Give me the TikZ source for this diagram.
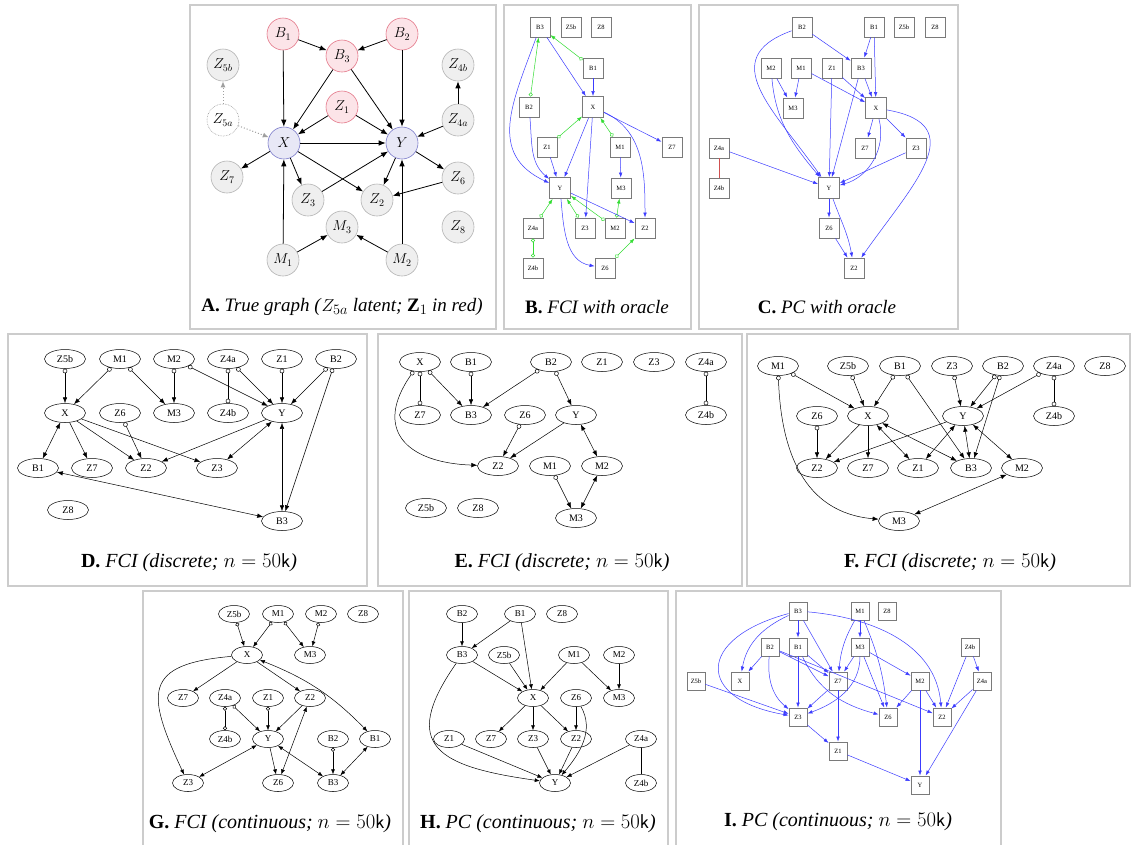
\documentclass[tikz,border=0pt]{standalone}
\usepackage{fontspec}
\setmainfont{Liberation Serif}
\usepackage{amsmath}
\usetikzlibrary{arrows.meta,shapes.geometric}
\definecolor{framegray}{HTML}{CCCCCC}
\definecolor{nodegray}{HTML}{B4B4B4}
\definecolor{fillgray}{HTML}{EFEFEF}
\definecolor{nodered}{HTML}{E4798A}
\definecolor{fillred}{HTML}{FCE4E8}
\definecolor{nodeblue}{HTML}{7D7DCB}
\definecolor{fillblue}{HTML}{E8E8F6}
\definecolor{boxgray}{HTML}{7A7A7A}
\definecolor{orblue}{HTML}{3C3CFF}
\definecolor{orgreen}{HTML}{33DD33}
\definecolor{orred}{HTML}{D05050}
\tikzset{
  gnode/.style   = {circle, minimum size=32pt, inner sep=0pt, line width=0.6pt, draw=nodegray, fill=fillgray,
                    font=\fontsize{14}{16}\selectfont},
  rnode/.style   = {gnode, draw=nodered, fill=fillred},
  bnode/.style   = {gnode, draw=nodeblue, fill=fillblue},
  hnode/.style   = {gnode, draw=gray!80, fill=white, densely dotted},
  tarr/.style    = {-{Latex[length=7pt,width=5.5pt]}, line width=0.8pt},
  harr/.style    = {-{Latex[length=6pt,width=5pt]}, line width=1pt, draw=gray!75, dotted},
  ovl/.style     = {ellipse, draw, fill=white, line width=0.5pt, minimum width=41pt, minimum height=19pt,
                    inner sep=0pt, font=\fontsize{10}{11}\selectfont},
  sovl/.style    = {ovl, minimum width=31pt, minimum height=17pt, font=\fontsize{9}{10}\selectfont},
  sq/.style      = {rectangle, draw=boxgray, fill=white, line width=0.9pt, minimum size=20pt, inner sep=0pt,
                    font=\fontsize{6.5}{7}\selectfont},
  ssq/.style     = {sq, minimum size=18pt},
  fwd/.style     = {-{Latex[length=6pt,width=4.5pt]}, line width=0.5pt},
  bidir/.style   = {{Latex[length=6pt,width=4.5pt]}-{Latex[length=6pt,width=4.5pt]}, line width=0.5pt},
  ofwd/.style    = {{Circle[open,length=4.5pt]}-{Latex[length=6pt,width=4.5pt]}, line width=0.5pt},
  oo/.style      = {{Circle[open,length=4.5pt]}-{Circle[open,length=4.5pt]}, line width=0.5pt},
  bfwd/.style    = {-{Latex[length=5pt,width=3.6pt]}, line width=0.5pt, draw=orblue},
  gfwd/.style    = {{Circle[open,length=4pt]}-{Latex[length=5pt,width=3.6pt]}, line width=0.5pt, draw=orgreen},
  goo/.style     = {{Circle[open,length=4pt]}-{Circle[open,length=4pt]}, line width=0.5pt, draw=orgreen},
  panelbox/.style = {draw=framegray, line width=1.2pt},
  captext/.style = {font=\fontsize{19}{22}\selectfont},
  runtext/.style = {font=\fontsize{20}{23}\selectfont},
}

\begin{document}
\begin{tikzpicture}[x=1pt, y=1pt]
  \fill[white] (0,0) rectangle (1132,-844);
  \useasboundingbox (0,0) rectangle (1132,-844);

  \draw[panelbox] (190,-5) rectangle (496,-329);
  \draw[panelbox] (504,-5) rectangle (691,-329);
  \draw[panelbox] (699,-5) rectangle (958,-329);
  \draw[panelbox] (8,-334) rectangle (367,-586);
  \draw[panelbox] (378,-334) rectangle (742,-586);
  \draw[panelbox] (747,-334) rectangle (1130,-586);
  \draw[panelbox] (143,-591) rectangle (403,-850);
  \draw[panelbox] (409,-591) rectangle (668,-850);
  \draw[panelbox] (676,-591) rectangle (1001,-850);

  \node[rnode] (aB1) at (283,-34) {$B_1$};
  \node[rnode] (aB3) at (342,-56) {$B_3$};
  \node[rnode] (aB2) at (402,-34) {$B_2$};
  \node[gnode] (aZ5b) at (223,-65) {$Z_{5b}$};
  \node[gnode] (aZ4b) at (458,-65) {$Z_{4b}$};
  \node[rnode] (aZ1) at (342,-107) {$Z_1$};
  \node[hnode] (aZ5a) at (223,-120) {$Z_{5a}$};
  \node[gnode] (aZ4a) at (458,-120) {$Z_{4a}$};
  \node[bnode] (aX) at (284,-143) {$X$};
  \node[bnode] (aY) at (402,-143) {$Y$};
  \node[gnode] (aZ7) at (227,-177) {$Z_7$};
  \node[gnode] (aZ6) at (458,-178) {$Z_6$};
  \node[gnode] (aZ3) at (308,-200) {$Z_3$};
  \node[gnode] (aZ2) at (377,-200) {$Z_2$};
  \node[gnode] (aM3) at (342,-227) {$M_3$};
  \node[gnode] (aZ8) at (458,-227) {$Z_8$};
  \node[gnode] (aM1) at (283,-260) {$M_1$};
  \node[gnode] (aM2) at (402,-260) {$M_2$};
  \draw[tarr] (aB1) -- (aB3); \draw[tarr] (aB2) -- (aB3);
  \draw[tarr] (aB1) -- (aX); \draw[tarr] (aB3) -- (aX); \draw[tarr] (aB3) -- (aY); \draw[tarr] (aB2) -- (aY);
  \draw[tarr] (aZ1) -- (aX); \draw[tarr] (aZ1) -- (aY);
  \draw[tarr] (aZ4a) -- (aZ4b); \draw[tarr] (aZ4a) -- (aY);
  \draw[tarr] (aX) -- (aY); \draw[tarr] (aX) -- (aZ7); \draw[tarr] (aX) -- (aZ3); \draw[tarr] (aX) -- (aZ2);
  \draw[tarr] (aY) -- (aZ2); \draw[tarr] (aY) -- (aZ6); \draw[tarr] (aZ6) -- (aZ2); \draw[tarr] (aZ3) -- (aY);
  \draw[tarr] (aM1) -- (aX); \draw[tarr] (aM2) -- (aY); \draw[tarr] (aM1) -- (aM3); \draw[tarr] (aM2) -- (aM3);
  \draw[harr] (aZ5a) -- (aZ5b); \draw[harr] (aZ5a) -- (aX);
  \node[captext] (capA) at (342,-307)
    {\textbf{A.} \textit{True graph (}$Z_{5a}$\textit{ latent; }$\mathbf{Z}_1$\textit{ in red)}};

  \node[sq] (bB3) at (540,-27) {B3};
  \node[sq] (bZ5b) at (571,-27) {Z5b};
  \node[sq] (bZ8) at (601,-27) {Z8};
  \node[sq] (bB1) at (593,-68) {B1};
  \node[sq] (bB2) at (529,-107) {B2};
  \node[sq, minimum size=21pt] (bX) at (593,-107) {X};
  \node[sq] (bZ1) at (547,-147) {Z1};
  \node[sq] (bM1) at (620,-147) {M1};
  \node[sq] (bZ7) at (672,-147) {Z7};
  \node[sq, minimum size=21pt] (bY) at (560,-188) {Y};
  \node[sq] (bM3) at (621,-188) {M3};
  \node[sq] (bZ4a) at (533,-228) {Z4a};
  \node[sq] (bZ3) at (585,-228) {Z3};
  \node[sq] (bM2) at (615,-228) {M2};
  \node[sq] (bZ2) at (645,-228) {Z2};
  \node[sq] (bZ4b) at (533,-268) {Z4b};
  \node[sq] (bZ6) at (605,-268) {Z6};
  \draw[gfwd] (bB1) -- (bB3); \draw[gfwd] (bB2) -- (bB3);
  \draw[gfwd] (bZ1) -- (bX); \draw[gfwd] (bM1) -- (bX);
  \draw[gfwd] (bZ4a) -- (bY); \draw[gfwd] (bZ3) -- (bY); \draw[gfwd] (bM2) -- (bY);
  \draw[gfwd] (bM2) -- (bM3); \draw[gfwd] (bZ6) -- (bZ2); \draw[goo] (bZ4a) -- (bZ4b);
  \draw[bfwd] (bB3) -- (bX); \draw[bfwd] (bB1) -- (bX);
  \draw[bfwd] (bB3) to[out=250, in=155, looseness=1.2] (bY);
  \draw[bfwd] (bB2) to[out=-85, in=140] (bY);
  \draw[bfwd] (bX) -- (bY); \draw[bfwd] (bX) -- (bZ3); \draw[bfwd] (bX) -- (bZ7);
  \draw[bfwd] (bX) to[out=-25, in=90] (bZ2);
  \draw[bfwd] (bZ1) -- (bY); \draw[bfwd] (bM1) -- (bM3); \draw[bfwd] (bY) -- (bZ2);
  \draw[bfwd] (bY) to[out=-85, in=170] (bZ6);
  \node[captext] (capB) at (597,-307) {\textbf{B.} \textit{FCI with oracle}};

  \node[sq] (cB2) at (802,-27) {B2};
  \node[sq] (cB1) at (874,-27) {B1};
  \node[sq] (cZ5b) at (904,-27) {Z5b};
  \node[sq] (cZ8) at (935,-27) {Z8};
  \node[sq] (cM2) at (771,-68) {M2};
  \node[sq] (cM1) at (801,-68) {M1};
  \node[sq] (cZ1) at (832,-68) {Z1};
  \node[sq] (cB3) at (861,-68) {B3};
  \node[sq] (cM3) at (793,-108) {M3};
  \node[sq, minimum size=21pt] (cX) at (876,-108) {X};
  \node[sq] (cZ4a) at (719,-148) {Z4a};
  \node[sq] (cZ7) at (865,-148) {Z7};
  \node[sq] (cZ3) at (916,-148) {Z3};
  \node[sq, minimum size=21pt] (cY) at (829,-188) {Y};
  \node[sq] (cZ4b) at (719,-188) {Z4b};
  \node[sq] (cZ6) at (829,-228) {Z6};
  \node[sq] (cZ2) at (854,-268) {Z2};
  \draw[bfwd] (cB2) -- (cB3); \draw[bfwd] (cB2) to[out=200, in=125, looseness=1.4] (cY);
  \draw[bfwd] (cB1) -- (cB3); \draw[bfwd] (cB1) -- (cX);
  \draw[bfwd] (cM2) -- (cM3); \draw[bfwd] (cM2) to[out=-85, in=130] (cY);
  \draw[bfwd] (cM1) -- (cM3); \draw[bfwd] (cM1) -- (cX);
  \draw[bfwd] (cZ1) -- (cX); \draw[bfwd] (cZ1) -- (cY);
  \draw[bfwd] (cB3) -- (cX); \draw[bfwd] (cB3) -- (cY);
  \draw[bfwd] (cX) -- (cZ7); \draw[bfwd] (cX) -- (cZ3);
  \draw[bfwd] (cX) to[out=-75, in=15] (cY); \draw[bfwd] (cZ3) -- (cY);
  \draw[bfwd] (cX) to[out=-10, in=55, looseness=1.5] (cZ2);
  \draw[bfwd] (cZ4a) -- (cY); \draw[bfwd] (cY) -- (cZ6);
  \draw[bfwd] (cY) to[out=-70, in=100] (cZ2); \draw[bfwd] (cZ6) -- (cZ2);
  \draw[line width=0.5pt, draw=orred] (cZ4a) -- (cZ4b);
  \node[captext] (capC) at (827,-307) {\textbf{C.} \textit{PC with oracle}};

  \node[ovl] (dZ5b) at (65,-359) {Z5b};
  \node[ovl] (dM1) at (120,-359) {M1};
  \node[ovl] (dM2) at (174,-359) {M2};
  \node[ovl] (dZ4a) at (228,-359) {Z4a};
  \node[ovl] (dZ1) at (282,-359) {Z1};
  \node[ovl] (dB2) at (336,-359) {B2};
  \node[ovl] (dX) at (65,-413) {X};
  \node[ovl] (dZ6) at (120,-413) {Z6};
  \node[ovl] (dM3) at (174,-413) {M3};
  \node[ovl] (dZ4b) at (228,-413) {Z4b};
  \node[ovl] (dY) at (282,-413) {Y};
  \node[ovl] (dB1) at (38,-468) {B1};
  \node[ovl] (dZ7) at (92,-468) {Z7};
  \node[ovl] (dZ2) at (146,-468) {Z2};
  \node[ovl] (dZ3) at (217,-468) {Z3};
  \node[ovl] (dZ8) at (68,-510) {Z8};
  \node[ovl] (dB3) at (282,-521) {B3};
  \draw[ofwd] (dZ5b) -- (dX); \draw[ofwd] (dM1) -- (dX); \draw[ofwd] (dM1) -- (dM3);
  \draw[ofwd] (dM2) -- (dM3); \draw[ofwd] (dM2) -- (dY); \draw[ofwd] (dZ4a) -- (dY);
  \draw[ofwd] (dZ1) -- (dY); \draw[ofwd] (dB2) -- (dY); \draw[ofwd] (dB2) -- (dB3);
  \draw[ofwd] (dZ6) -- (dZ2); \draw[oo] (dZ4a) -- (dZ4b);
  \draw[bidir] (dX) -- (dB1); \draw[bidir] (dY) -- (dZ3); \draw[bidir] (dY) -- (dB3);
  \draw[bidir] (dB1) -- (dB3);
  \draw[fwd] (dX) -- (dZ7); \draw[fwd] (dX) -- (dZ2); \draw[fwd] (dX) -- (dZ3); \draw[fwd] (dY) -- (dZ2);
  \node[runtext] (capD) at (189,-563) {\textbf{D.} \textit{FCI (discrete; }$n = 50\mathsf{k}$\textit{)}};

  \node[ovl] (eX) at (420,-362) {X};
  \node[ovl] (eB1) at (471,-362) {B1};
  \node[ovl] (eB2) at (551,-362) {B2};
  \node[ovl] (eZ1) at (602,-362) {Z1};
  \node[ovl] (eZ3) at (654,-362) {Z3};
  \node[ovl] (eZ4a) at (706,-362) {Z4a};
  \node[ovl] (eZ7) at (420,-415) {Z7};
  \node[ovl] (eB3) at (471,-415) {B3};
  \node[ovl] (eZ6) at (525,-415) {Z6};
  \node[ovl] (eY) at (576,-415) {Y};
  \node[ovl] (eZ4b) at (706,-415) {Z4b};
  \node[ovl] (eZ2) at (498,-466) {Z2};
  \node[ovl] (eM1) at (550,-466) {M1};
  \node[ovl] (eM2) at (602,-466) {M2};
  \node[ovl] (eZ5b) at (426,-508) {Z5b};
  \node[ovl] (eZ8) at (478,-508) {Z8};
  \node[ovl] (eM3) at (576,-518) {M3};
  \draw[oo] (eX) -- (eZ7); \draw[oo] (eZ4a) -- (eZ4b);
  \draw[ofwd] (eX) -- (eB3); \draw[ofwd] (eX) to[out=235, in=178, looseness=1.6] (eZ2);
  \draw[ofwd] (eB1) -- (eB3); \draw[ofwd] (eB2) -- (eB3); \draw[ofwd] (eB2) -- (eY);
  \draw[ofwd] (eZ6) -- (eZ2); \draw[ofwd] (eM1) -- (eM3);
  \draw[fwd] (eY) -- (eZ2);
  \draw[bidir] (eY) -- (eM2); \draw[bidir] (eM2) -- (eM3);
  \node[runtext] (capE) at (562,-563) {\textbf{E.} \textit{FCI (discrete; }$n = 50\mathsf{k}$\textit{)}};

  \node[ovl] (fM1) at (778,-366) {M1};
  \node[ovl] (fZ5b) at (848,-366) {Z5b};
  \node[ovl] (fB1) at (900,-366) {B1};
  \node[ovl] (fZ3) at (952,-366) {Z3};
  \node[ovl] (fB2) at (1003,-366) {B2};
  \node[ovl] (fZ4a) at (1054,-366) {Z4a};
  \node[ovl] (fZ8) at (1105,-366) {Z8};
  \node[ovl] (fZ6) at (817,-416) {Z6};
  \node[ovl] (fX) at (868,-416) {X};
  \node[ovl] (fY) at (963,-416) {Y};
  \node[ovl] (fZ4b) at (1054,-416) {Z4b};
  \node[ovl] (fZ2) at (817,-468) {Z2};
  \node[ovl] (fZ7) at (868,-468) {Z7};
  \node[ovl] (fZ1) at (918,-468) {Z1};
  \node[ovl] (fB3) at (971,-468) {B3};
  \node[ovl] (fM2) at (1022,-468) {M2};
  \node[ovl] (fM3) at (899,-521) {M3};
  \draw[ofwd] (fM1) -- (fX); \draw[ofwd] (fM1) to[out=-88, in=175, looseness=1.1] (fM3);
  \draw[ofwd] (fZ5b) -- (fX); \draw[ofwd] (fB1) -- (fX); \draw[ofwd] (fB1) -- (fB3);
  \draw[ofwd] (fZ3) -- (fY); \draw[ofwd] (fB2) -- (fY); \draw[ofwd] (fB2) -- (fB3);
  \draw[ofwd] (fZ4a) -- (fY); \draw[ofwd] (fZ6) -- (fZ2); \draw[oo] (fZ4a) -- (fZ4b);
  \draw[fwd] (fX) -- (fZ2); \draw[fwd] (fX) -- (fZ7); \draw[fwd] (fY) -- (fZ2);
  \draw[bidir] (fX) -- (fZ1); \draw[bidir] (fX) -- (fB3); \draw[bidir] (fY) -- (fZ1);
  \draw[bidir] (fY) -- (fB3); \draw[bidir] (fY) -- (fM2); \draw[bidir] (fM2) -- (fM3);
  \node[runtext] (capF) at (950,-563) {\textbf{F.} \textit{FCI (discrete; }$n = 50\mathsf{k}$\textit{)}};

  \begin{scope}[fwd/.style={-{Latex[length=5pt,width=4pt]}, line width=0.5pt},
                bidir/.style={{Latex[length=5pt,width=4pt]}-{Latex[length=5pt,width=4pt]}, line width=0.5pt},
                ofwd/.style={{Circle[open,length=4pt]}-{Latex[length=5pt,width=4pt]}, line width=0.5pt},
                oo/.style={{Circle[open,length=4pt]}-{Circle[open,length=4pt]}, line width=0.5pt}]
  \node[sovl] (gZ5b) at (234,-614) {Z5b};
  \node[sovl] (gM1) at (278,-614) {M1};
  \node[sovl] (gM2) at (321,-614) {M2};
  \node[sovl] (gZ8) at (363,-614) {Z8};
  \node[sovl] (gX) at (247,-655) {X};
  \node[sovl] (gM3) at (310,-655) {M3};
  \node[sovl] (gZ7) at (183,-698) {Z7};
  \node[sovl] (gZ4a) at (225,-698) {Z4a};
  \node[sovl] (gZ1) at (268,-698) {Z1};
  \node[sovl] (gZ2) at (310,-698) {Z2};
  \node[sovl] (gZ4b) at (225,-739) {Z4b};
  \node[sovl] (gY) at (268,-739) {Y};
  \node[sovl] (gB2) at (333,-739) {B2};
  \node[sovl] (gB1) at (375,-739) {B1};
  \node[sovl] (gZ3) at (188,-783) {Z3};
  \node[sovl] (gZ6) at (278,-783) {Z6};
  \node[sovl] (gB3) at (333,-783) {B3};
  \draw[ofwd] (gZ5b) -- (gX); \draw[ofwd] (gM1) -- (gX); \draw[ofwd] (gM1) -- (gM3);
  \draw[ofwd] (gM2) -- (gM3); \draw[ofwd] (gZ4a) -- (gY); \draw[ofwd] (gZ1) -- (gY);
  \draw[ofwd] (gB2) -- (gB3); \draw[oo] (gZ4a) -- (gZ4b);
  \draw[fwd] (gX) -- (gZ7); \draw[fwd] (gX) -- (gZ2);
  \draw[fwd] (gX) to[out=185, in=115, looseness=1.8] (gZ3);
  \draw[fwd] (gZ2) -- (gY); \draw[fwd] (gY) -- (gZ6);
  \draw[bidir] (gX) to[bend left=12] (gB1); \draw[bidir] (gY) -- (gZ3); \draw[bidir] (gZ2) -- (gZ6);
  \draw[bidir] (gY) -- (gB3); \draw[bidir] (gB1) -- (gB3);
  \node[runtext] (capG) at (270,-824) {\textbf{G.} \textit{FCI (continuous; }$n = 50\mathsf{k}$\textit{)}};

  \node[sovl] (hB2) at (462,-614) {B2};
  \node[sovl] (hB1) at (520,-614) {B1};
  \node[sovl] (hZ8) at (562,-614) {Z8};
  \node[sovl] (hB3) at (462,-655) {B3};
  \node[sovl] (hZ5b) at (504,-655) {Z5b};
  \node[sovl] (hM1) at (574,-655) {M1};
  \node[sovl] (hM2) at (619,-655) {M2};
  \node[sovl] (hX) at (533,-698) {X};
  \node[sovl] (hZ6) at (576,-698) {Z6};
  \node[sovl] (hM3) at (619,-698) {M3};
  \node[sovl] (hZ1) at (449,-739) {Z1};
  \node[sovl] (hZ7) at (491,-739) {Z7};
  \node[sovl] (hZ3) at (533,-739) {Z3};
  \node[sovl] (hZ2) at (576,-739) {Z2};
  \node[sovl] (hZ4a) at (641,-739) {Z4a};
  \node[sovl] (hY) at (555,-783) {Y};
  \node[sovl] (hZ4b) at (641,-783) {Z4b};
  \draw[fwd] (hB2) -- (hB3); \draw[fwd] (hB1) -- (hB3); \draw[fwd] (hB1) -- (hX);
  \draw[fwd] (hB3) -- (hX); \draw[fwd] (hB3) to[out=235, in=172, looseness=1.8] (hY);
  \draw[fwd] (hZ5b) -- (hX); \draw[fwd] (hM1) -- (hX); \draw[fwd] (hM1) -- (hM3); \draw[fwd] (hM2) -- (hM3);
  \draw[fwd] (hX) -- (hZ7); \draw[fwd] (hX) -- (hZ3); \draw[fwd] (hX) -- (hZ2);
  \draw[fwd] (hZ6) -- (hZ2); \draw[fwd] (hZ6) to[out=-60, in=50] (hY);
  \draw[fwd] (hZ1) -- (hY); \draw[fwd] (hZ3) -- (hY); \draw[fwd] (hZ2) -- (hY); \draw[fwd] (hZ4a) -- (hY);
  \draw[line width=0.5pt] (hZ4a) -- (hZ4b);
  \node[runtext] (capH) at (538,-824) {\textbf{H.} \textit{PC (continuous; }$n = 50\mathsf{k}$\textit{)}};
  \end{scope}

  \node[ssq] (iB3) at (798,-611) {B3};
  \node[ssq] (iM1) at (860,-611) {M1};
  \node[ssq] (iZ8) at (887,-611) {Z8};
  \node[ssq] (iB2) at (770,-647) {B2};
  \node[ssq] (iB1) at (798,-647) {B1};
  \node[ssq] (iM3) at (860,-647) {M3};
  \node[ssq] (iZ4b) at (970,-647) {Z4b};
  \node[ssq] (iZ5b) at (696,-681) {Z5b};
  \node[ssq] (iX) at (740,-681) {X};
  \node[ssq] (iZ7) at (838,-681) {Z7};
  \node[ssq] (iM2) at (920,-681) {M2};
  \node[ssq] (iZ4a) at (982,-681) {Z4a};
  \node[ssq] (iZ3) at (798,-717) {Z3};
  \node[ssq] (iZ6) at (888,-717) {Z6};
  \node[ssq] (iZ2) at (942,-717) {Z2};
  \node[ssq] (iZ1) at (838,-751) {Z1};
  \node[ssq] (iY) at (920,-785) {Y};
  \draw[bfwd] (iB3) -- (iB1); \draw[bfwd] (iB3) to[out=205, in=80] (iX);
  \draw[bfwd] (iB3) to[out=195, in=170, looseness=2.4] (iZ3);
  \draw[bfwd] (iB3) -- (iZ7); \draw[bfwd] (iB3) to[out=-5, in=95] (iZ2);
  \draw[bfwd] (iM1) -- (iM3); \draw[bfwd] (iM1) to[bend right=12] (iZ7); \draw[bfwd] (iM1) to[bend left=8] (iZ6);
  \draw[bfwd] (iB2) -- (iX); \draw[bfwd] (iB2) -- (iZ7); \draw[bfwd] (iB2) to[out=-95, in=140] (iZ3);
  \draw[bfwd] (iB2) -- (iZ2);
  \draw[bfwd] (iB1) -- (iZ3); \draw[bfwd] (iB1) -- (iZ7); \draw[bfwd] (iB1) to[out=-65, in=165] (iZ6);
  \draw[bfwd] (iM3) -- (iZ7); \draw[bfwd] (iM3) to[out=-90, in=20] (iZ3); \draw[bfwd] (iM3) -- (iZ6);
  \draw[bfwd] (iM3) -- (iM2);
  \draw[bfwd] (iZ7) -- (iZ3); \draw[bfwd] (iZ7) -- (iZ1);
  \draw[bfwd] (iM2) -- (iZ6); \draw[bfwd] (iM2) -- (iZ2); \draw[bfwd] (iM2) -- (iY);
  \draw[bfwd] (iZ4b) -- (iZ4a); \draw[bfwd] (iZ4b) -- (iZ2); \draw[bfwd] (iZ4a) -- (iZ2); \draw[bfwd] (iZ4a) -- (iY);
  \draw[bfwd] (iZ3) -- (iZ1); \draw[bfwd] (iZ1) -- (iY); \draw[bfwd] (iZ5b) -- (iZ3);
  \node[runtext] (capI) at (838,-822) {\textbf{I.} \textit{PC (continuous; }$n = 50\mathsf{k}$\textit{)}};
\end{tikzpicture}
\end{document}
